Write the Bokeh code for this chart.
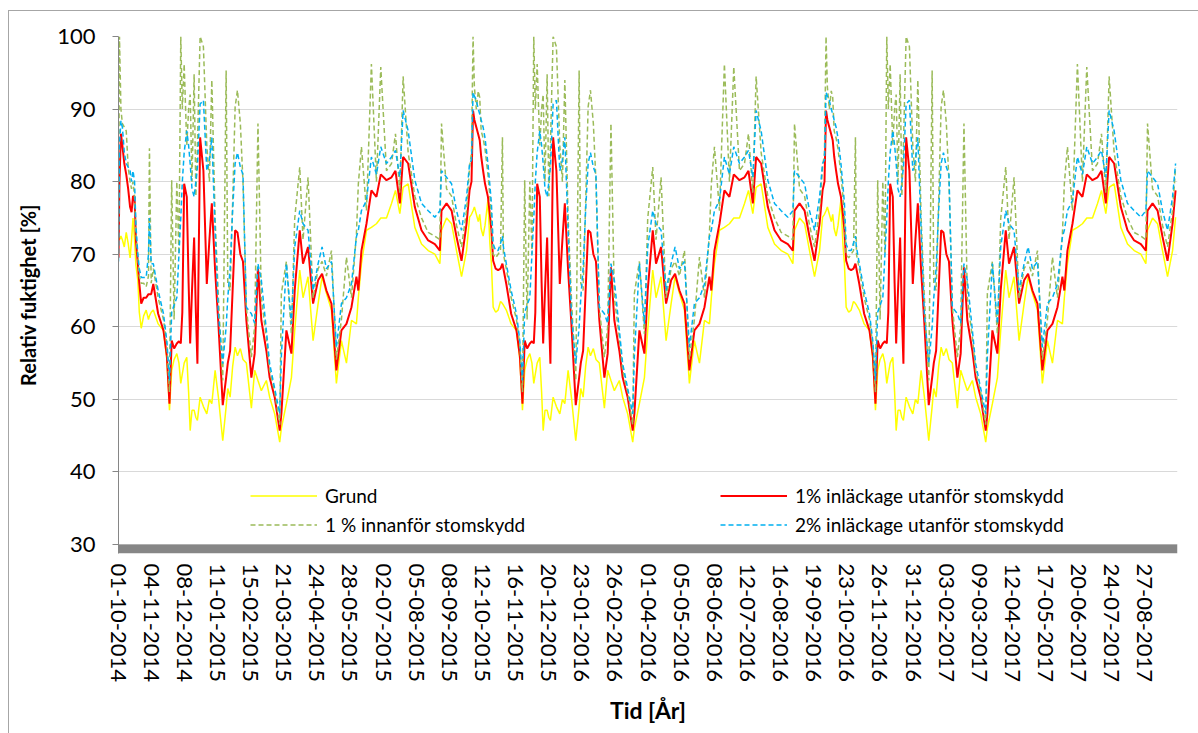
import datetime as dt
from bokeh.plotting import figure
from bokeh.models import Range1d, FixedTicker, BoxAnnotation, Legend, LegendItem
from bokeh.embed import file_html
from bokeh.resources import INLINE

# ---------------- data ----------------
START_DATE = "01-10-2014"
TICK_LABELS = [
    "01-10-2014", "04-11-2014", "08-12-2014", "11-01-2015", "15-02-2015", "21-03-2015",
    "24-04-2015", "28-05-2015", "02-07-2015", "05-08-2015", "08-09-2015", "12-10-2015",
    "16-11-2015", "20-12-2015", "23-01-2016", "26-02-2016", "01-04-2016", "05-05-2016",
    "08-06-2016", "12-07-2016", "16-08-2016", "19-09-2016", "23-10-2016", "26-11-2016",
    "31-12-2016", "03-02-2017", "09-03-2017", "12-04-2017", "17-05-2017", "20-06-2017",
    "24-07-2017", "27-08-2017",
]
Y_TICKS = [30, 40, 50, 60, 70, 80, 90, 100]

# one climate year (day after 1 October), repeated for every year shown
YEAR_DAY = [0, 1.6, 3, 5, 7, 8.5, 10, 12, 14, 17, 19, 20.6, 22.4, 25, 27.5, 30, 32, 33,
            36, 41, 46.5, 50, 52.7, 55, 57.5, 60.3, 62.5, 64.4, 66, 67.9, 70.6, 72.5, 74.1,
            76, 78.2, 80, 81.6, 84.4, 87.8, 91.3, 94, 96.5, 99.9, 103.3, 107.8, 111.3, 113,
            115.4, 118, 120.6, 123, 126, 128.7, 132.2, 137.4, 140.8, 144.2, 147.7, 152.9,
            156.3, 161.5, 166.7, 168.4, 173.6, 178.8, 182.2, 187.4, 190.8, 196, 201.2, 206.4,
            210.5, 215, 220.2, 225.3, 230.5, 235.7, 240.9, 246, 248, 251.2, 256.4, 261.5,
            266.7, 271.2, 277.1, 282.3, 286.4, 290.9, 294.3, 299.5, 306.4, 313.3, 320.2,
            327.1, 332.3, 334, 339.2, 344.4, 349.5, 354.7, 359.9, 363]
GRUND = [75.5, 76.0, 76.5, 75.5, 74.5, 75.5, 73.5, 72.5, 74.0, 77.5, 71.5, 68.7, 62.7, 62.0,
         62.3, 63.5, 63.2, 63.0, 62.3, 60.4, 59.5, 55.5, 48.5, 54.0, 55.5, 56.3, 55.0, 52.2,
         53.5, 55.0, 55.8, 51.0, 45.7, 48.5, 48.5, 47.5, 47.1, 50.3, 49.0, 48.0, 50.0, 49.4,
         54.0, 50.3, 44.3, 49.0, 51.5, 50.3, 54.5, 57.2, 56.0, 57.0, 55.5, 55.0, 48.8, 54.0,
         52.6, 51.2, 52.6, 50.3, 48.0, 44.1, 46.0, 49.4, 53.0, 59.5, 67.8, 64.0, 66.9, 58.1,
         63.2, 66.9, 64.6, 62.3, 52.2, 58.1, 55.0, 60.9, 60.4, 64.0, 68.7, 73.3, 73.7, 74.2,
         75.0, 75.0, 77.0, 78.8, 75.6, 79.2, 79.7, 73.7, 71.4, 70.5, 70.0, 68.7, 73.3, 75.0,
         74.2, 70.5, 66.9, 70.5, 75.1]
INLACK_1 = [80.0, 89.8, 88.5, 87.5, 86.5, 85.7, 83.5, 81.5, 79.7, 77.9, 75.5, 73.3, 69.1,
            68.0, 67.8, 68.0, 68.7, 68.0, 65.9, 61.8, 59.5, 56.0, 49.4, 58.1, 57.0, 57.7, 58.0,
            57.7, 62.0, 79.7, 77.9, 66.0, 57.7, 65.0, 72.3, 62.0, 54.9, 86.1, 81.5, 65.9, 72.0,
            77.0, 67.8, 60.4, 49.2, 53.0, 55.0, 56.7, 65.0, 73.3, 73.0, 70.0, 69.0, 60.9, 53.0,
            56.3, 68.2, 60.9, 56.7, 53.0, 50.3, 45.7, 48.0, 59.5, 56.3, 65.0, 73.3, 68.7, 71.0,
            63.2, 66.4, 67.3, 65.0, 63.2, 54.0, 59.5, 60.4, 62.7, 66.9, 65.0, 70.5, 74.2, 78.8,
            77.9, 81.0, 80.2, 80.6, 81.5, 77.0, 83.4, 82.5, 76.5, 73.3, 71.9, 71.4, 70.5, 76.0,
            77.0, 76.0, 72.4, 69.1, 74.2, 78.8]
INNANFOR_1 = [84.0, 100.0, 93.0, 90.0, 92.5, 91.6, 87.0, 86.0, 84.5, 81.0, 78.0, 75.0, 70.0,
              69.5, 70.0, 70.5, 86.1, 70.0, 68.0, 64.0, 61.0, 57.5, 51.0, 80.2, 61.0, 80.0,
              70.0, 100.0, 90.0, 96.2, 85.0, 90.0, 92.0, 80.0, 94.8, 78.0, 85.0, 100.0, 98.6,
              85.0, 80.0, 94.0, 75.0, 64.0, 52.6, 95.3, 66.0, 65.0, 77.0, 90.3, 92.6, 88.0,
              80.0, 62.7, 55.8, 60.0, 88.0, 64.0, 58.5, 54.0, 51.0, 46.5, 64.6, 69.0, 59.0,
              74.9, 82.0, 72.0, 80.6, 64.0, 68.0, 69.0, 67.0, 70.5, 55.5, 61.0, 69.6, 64.0,
              72.8, 79.7, 84.8, 76.0, 96.2, 80.0, 95.8, 81.5, 82.5, 86.6, 78.5, 94.5, 84.0,
              78.0, 75.0, 73.0, 72.5, 72.0, 88.0, 79.0, 78.0, 74.0, 71.0, 76.0, 82.0]
INLACK_2 = [83.0, 92.3, 91.8, 91.2, 90.0, 89.3, 88.5, 87.5, 86.0, 82.5, 79.5, 77.0, 71.4,
            70.5, 70.5, 71.5, 72.5, 71.0, 68.7, 65.0, 61.8, 58.0, 52.6, 62.0, 63.0, 64.0, 70.0,
            75.0, 80.0, 84.0, 87.0, 85.0, 82.5, 79.0, 77.9, 80.0, 82.0, 90.7, 91.2, 81.5, 83.0,
            86.1, 73.3, 61.8, 54.9, 60.0, 64.0, 68.0, 76.0, 82.5, 84.0, 82.0, 81.0, 62.7, 61.8,
            60.5, 68.7, 66.4, 59.5, 54.9, 51.5, 48.0, 56.0, 68.7, 60.4, 71.0, 76.0, 74.2, 73.3,
            65.0, 68.7, 71.0, 68.0, 69.0, 57.2, 63.2, 64.0, 65.9, 72.4, 73.3, 76.0, 77.4, 83.4,
            81.0, 84.8, 82.5, 83.4, 84.3, 80.6, 89.8, 87.0, 80.2, 77.0, 76.0, 75.1, 76.0, 81.5,
            80.6, 79.7, 76.0, 73.3, 77.9, 82.5]

# first weeks of the simulation (autumn 2014), which differ from later years
START_DAY = [0, 1, 2.5, 4, 6, 8, 10, 12, 13.5, 15, 16.6, 18, 20, 21.5, 23.5, 26, 28.6, 31,
             32, 33.8]
START_GRUND = [72.5, 72.0, 72.5, 72.0, 71.0, 73.0, 71.5, 69.5, 72.0, 75.0, 72.0, 68.5, 66.4,
               62.0, 59.8, 61.5, 62.3, 61.0, 61.5, 62.0]
START_INLACK_1 = [69.5, 80.0, 86.6, 85.0, 82.5, 81.0, 79.0, 76.5, 75.8, 78.0, 77.9, 72.0,
                  68.7, 66.0, 63.2, 64.0, 64.0, 64.5, 64.5, 64.5]
START_INNANFOR_1 = [70.0, 100.0, 90.0, 88.0, 87.5, 87.0, 82.0, 80.0, 79.0, 80.0, 78.0, 73.0,
                    69.6, 67.0, 66.0, 66.0, 65.5, 67.0, 84.6, 66.0]
START_INLACK_2 = [69.0, 85.0, 88.4, 87.5, 84.0, 82.5, 82.0, 81.5, 80.0, 81.5, 80.0, 74.0,
                  70.0, 68.0, 66.8, 66.8, 66.8, 70.0, 75.0, 68.7]

SERIES = [
    ("Grund", START_GRUND, GRUND),
    ("1% inläckage utanför stomskydd", START_INLACK_1, INLACK_1),
    ("1 % innanför stomskydd", START_INNANFOR_1, INNANFOR_1),
    ("2% inläckage utanför stomskydd", START_INLACK_2, INLACK_2),
]
N_YEARS = 3
YEAR_LEN = 365
X_END = 1095


def build(start_vals, year_vals):
    xs = list(START_DAY)
    ys = list(start_vals)
    for k in range(N_YEARS):
        for d, v in zip(YEAR_DAY, year_vals):
            if k == 0 and d <= START_DAY[-1]:
                continue
            xs.append(d + YEAR_LEN * k)
            ys.append(v)
    return xs, ys


t0 = dt.datetime.strptime(START_DATE, "%d-%m-%Y")
tick_pos = [(dt.datetime.strptime(s, "%d-%m-%Y") - t0).days for s in TICK_LABELS]

FONT = "Lato"

p = figure(width=1198, height=733, output_backend="svg", toolbar_location=None,
           x_range=Range1d(0, X_END), y_range=Range1d(28.76, 100),
           min_border_left=118, min_border_right=21, min_border_top=36,
           min_border_bottom=180)
p.outline_line_color = None
p.background_fill_color = "white"
p.border_fill_color = None
# chart-area border (left and top edges visible in the window)
p.styles = {
    "background-color": "white",
    "background-image": "linear-gradient(#A6A6A6, #A6A6A6), linear-gradient(#A6A6A6, #A6A6A6)",
    "background-size": "1px 100%, 100% 1px",
    "background-position": "8px 10px, 8px 10px",
    "background-repeat": "no-repeat",
}
p.xgrid.visible = False
p.ygrid.ticker = FixedTicker(ticks=Y_TICKS)
p.ygrid.grid_line_color = "#D9D9D9"
p.ygrid.grid_line_width = 1.2

ya = p.yaxis[0]
ya.ticker = FixedTicker(ticks=Y_TICKS)
ya.axis_line_color = "#868686"
ya.major_tick_line_color = "#868686"
ya.major_tick_out = 6
ya.major_tick_in = 0
ya.minor_tick_line_color = None
ya.major_label_text_font = FONT
ya.major_label_text_font_size = "22px"
ya.major_label_text_color = "black"
ya.major_label_standoff = 17
ya.axis_label = "Relativ fuktighet [%]"
ya.axis_label_text_font = FONT
ya.axis_label_text_font_style = "bold"
ya.axis_label_text_font_size = "20px"
ya.axis_label_text_color = "black"
ya.axis_label_standoff = 14

xa = p.xaxis[0]
xa.ticker = FixedTicker(ticks=tick_pos)
xa.major_label_overrides = {tp: lab for tp, lab in zip(tick_pos, TICK_LABELS)}
xa.major_label_orientation = "vertical"
xa.axis_line_color = None
xa.major_tick_line_color = None
xa.minor_tick_line_color = None
xa.major_tick_out = 0
xa.major_tick_in = 0
xa.major_label_text_font = FONT
xa.major_label_text_font_size = "22px"
xa.major_label_text_color = "black"
xa.major_label_standoff = 10
xa.axis_label = "Tid [År]"
xa.axis_label_text_font = FONT
xa.axis_label_text_font_style = "bold"
xa.axis_label_text_font_size = "23px"
xa.axis_label_text_color = "black"
xa.axis_label_standoff = 11

# thick grey floor under the 30 % line
p.add_layout(BoxAnnotation(top=30, fill_color="#868686", fill_alpha=1.0, line_color=None))

styles = {
    "Grund": dict(line_color="#FFFF00", line_width=1.5),
    "1% inläckage utanför stomskydd": dict(line_color="#FF0000", line_width=2),
    "1 % innanför stomskydd": dict(line_color="#9BBB59", line_width=1.5, line_dash="5 3"),
    "2% inläckage utanför stomskydd": dict(line_color="#00B0F0", line_width=1.5, line_dash="5 3"),
}
rends = {}
for name, sv, yv in SERIES:
    xs, ys = build(sv, yv)
    rends[name] = p.line(xs, ys, **styles[name])


def make_legend(names, loc):
    leg = Legend(items=[LegendItem(label=n, renderers=[rends[n]]) for n in names],
                 location=loc, orientation="vertical")
    leg.border_line_color = None
    leg.background_fill_alpha = 0
    leg.padding = 0
    leg.margin = 0
    leg.spacing = 0
    leg.glyph_width = 67
    leg.glyph_height = 29
    leg.label_height = 29
    leg.label_standoff = 8
    leg.label_text_font = FONT
    leg.label_text_font_size = "19px"
    leg.label_text_color = "black"
    return leg


p.add_layout(make_legend(["Grund", "1 % innanför stomskydd"], (132, 14.5)))
p.add_layout(make_legend(["1% inläckage utanför stomskydd", "2% inläckage utanför stomskydd"], (602, 14.5)))

open("out.html", "w").write(file_html(p, INLINE))
